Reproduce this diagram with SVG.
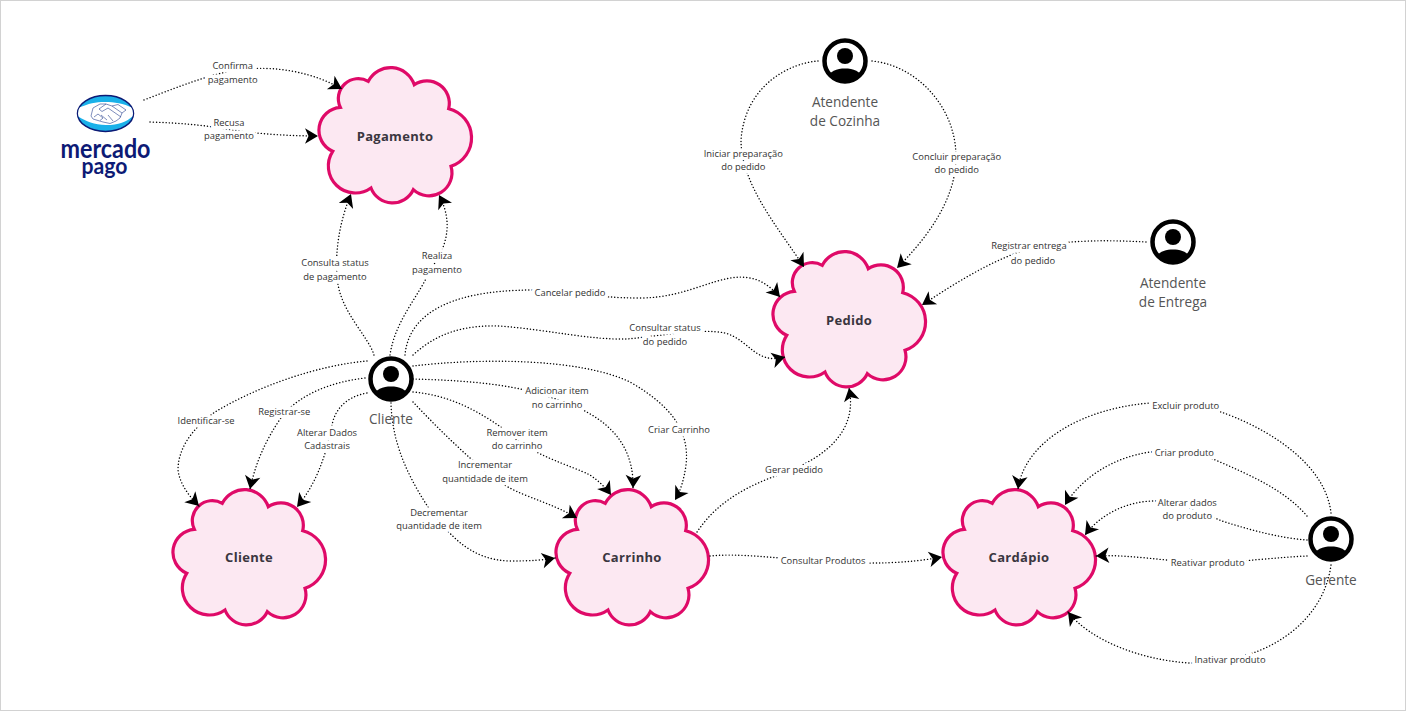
<svg xmlns="http://www.w3.org/2000/svg" width="1406" height="711" viewBox="0 0 1406 711">
<style>
.c{fill:none;stroke:#000;stroke-width:1.4;stroke-dasharray:.1 3.1;stroke-linecap:round;marker-end:url(#arrow)}
.cloud{fill:#fce8f2;stroke:#df0a68;stroke-width:3.200}
.t{font-family:"Open Sans","Liberation Sans",sans-serif;text-anchor:middle}
.n{font-size:13px;font-weight:700;fill:#3a3640;letter-spacing:.3px}
.a{font-size:13.600px;fill:#555}
.l{font-size:9.400px;fill:#333;stroke:#fff;stroke-width:7;stroke-linejoin:round;paint-order:stroke}
.m{font-family:Lato,"Liberation Sans",sans-serif;font-weight:700;fill:#0d1a75;text-anchor:middle}
</style>
<defs>
<marker id="arrow" markerUnits="userSpaceOnUse" markerWidth="18" markerHeight="18" viewBox="-15 -9 18 18" refX="0" refY="0" orient="auto" overflow="visible"><path d="M0 0L-13 -7.800L-9.500 0L-13 7.800Z" fill="#000"/></marker>
<path id="cloudShape" class="cloud" d="M50.300 13.300A25 25 0 0 1 96.300 16.700A22.500 22.500 0 0 1 130.700 40.700A30 30 0 0 1 133 98.300A23 23 0 0 1 95.300 121.700A23 23 0 0 1 53 120A27 27 0 0 1 14.700 83.300A23 23 0 0 1 22.300 39.300A20 20 0 0 1 50.300 13.300Z"/>
<clipPath id="actorClip"><circle r="20"/></clipPath>
<g id="actor"><circle r="20.500" fill="#fff" stroke="#000" stroke-width="4.500"/><circle cy="-5" r="8" fill="#000"/><path clip-path="url(#actorClip)" d="M-18 18C-16 10 -8 7.500 0 7.500C8 7.500 16 10 18 18V24H-18Z" fill="#000"/></g>
<clipPath id="mpClip"><ellipse cx="105.500" cy="113.500" rx="27.500" ry="17.500"/></clipPath>
</defs>
<rect width="1406" height="711" fill="#fff"/>
<rect x=".5" y=".5" width="1405" height="710" fill="none" stroke="#d2d2d2"/>

<g id="node-pagamento"><use href="#cloudShape" x="318" y="68"/><text class="t n" x="395" y="141">Pagamento</text></g>
<g id="node-pedido"><use href="#cloudShape" x="772" y="252"/><text class="t n" x="849" y="325">Pedido</text></g>
<g id="node-cliente"><use href="#cloudShape" x="172" y="490"/><text class="t n" x="249" y="562">Cliente</text></g>
<g id="node-carrinho"><use href="#cloudShape" x="555" y="490"/><text class="t n" x="632" y="562">Carrinho</text></g>
<g id="node-cardapio"><use href="#cloudShape" x="942" y="490"/><text class="t n" x="1019" y="562">Cardápio</text></g>

<g id="connectors">
<path class="c" d="M144 100C175 88 205 76 235 70C265 66 305 68 342 89"/>
<path class="c" d="M150 122C180 123 205 125 232 130C260 134 290 136 318 136"/>
<path class="c" d="M374 355C368 335 338 310 337 275C335 250 340 220 351 194"/>
<path class="c" d="M390 355C395 320 420 295 430 270C445 250 455 225 439 195"/>
<path class="c" d="M405 355C408 320 440 290 533 290C570 290 590 298 640 298C690 298 720 272 750 278C762 280 772 288 780 297"/>
<path class="c" d="M413 355C440 330 470 325 500 326C550 330 590 340 627 339C660 336 700 328 725 333C750 340 755 365 785 357"/>
<path class="c" d="M413 366C480 358 580 358 630 382C670 405 690 430 686 465C684 480 680 492 675 500"/>
<path class="c" d="M413 379C450 380 490 382 525 390C570 402 635 420 633 488"/>
<path class="c" d="M413 392C450 395 480 412 505 430C530 455 570 465 590 475C600 482 606 488 611 495"/>
<path class="c" d="M413 402C430 420 450 440 470 458C490 475 500 485 525 495C545 503 560 508 577 518"/>
<path class="c" d="M391 403C392 445 410 480 430 510C450 535 470 560 510 561C530 561 545 560 555 558"/>
<path class="c" d="M367 361C320 365 260 385 215 412C190 430 178 450 178 470C180 485 190 497 199 506"/>
<path class="c" d="M365 378C330 382 300 395 283 415C265 440 255 465 250 489"/>
<path class="c" d="M367 393C345 397 335 410 332 425C325 460 315 485 297 507"/>
<path class="c" d="M697 532C715 505 740 490 770 478C810 465 860 440 849 388"/>
<path class="c" d="M710 556C740 553 770 558 823 561C870 565 910 563 942 557"/>
<path class="c" d="M818 61C790 63 745 85 741 140C741 185 780 230 804 267"/>
<path class="c" d="M872 61C915 65 955 105 956 155C957 200 925 240 897 268"/>
<path class="c" d="M1146 242C1110 240 1070 240 1040 246C1000 255 960 280 922 305"/>
<path class="c" d="M1331 513C1325 460 1260 425 1218 411C1190 403 1170 402 1150 403C1085 408 1025 440 1018 489"/>
<path class="c" d="M1307 516C1285 490 1250 475 1213 459C1195 453 1170 451 1150 452C1110 458 1080 480 1065 505"/>
<path class="c" d="M1307 540C1280 538 1250 530 1222 521C1200 512 1175 500 1152 501C1125 502 1100 515 1085 535"/>
<path class="c" d="M1307 556C1280 557 1240 562 1208 563C1170 562 1130 554 1096 556"/>
<path class="c" d="M1331 565C1325 610 1290 640 1253 653C1230 660 1210 663 1190 663C1140 660 1090 640 1068 612"/>
</g>

<g id="connector-labels">
<text class="t l" x="232.700" y="69">Confirma</text><text class="t l" x="232.700" y="83">pagamento</text>
<text class="t l" x="229" y="126">Recusa</text><text class="t l" x="229" y="139">pagamento</text>
<text class="t l" x="335" y="266">Consulta status</text><text class="t l" x="335" y="280">de pagamento</text>
<text class="t l" x="437" y="259">Realiza</text><text class="t l" x="437" y="273">pagamento</text>
<text class="t l" x="570" y="296">Cancelar pedido</text>
<text class="t l" x="665" y="331">Consultar status</text><text class="t l" x="665" y="345">do pedido</text>
<text class="t l" x="557" y="394">Adicionar item</text><text class="t l" x="557" y="408">no carrinho</text>
<text class="t l" x="679" y="433">Criar Carrinho</text>
<text class="t l" x="517" y="436">Remover item</text><text class="t l" x="517" y="449">do carrinho</text>
<text class="t l" x="485" y="468">Incrementar</text><text class="t l" x="485" y="482">quantidade de item</text>
<text class="t l" x="439" y="516">Decrementar</text><text class="t l" x="439" y="529">quantidade de item</text>
<text class="t l" x="206" y="424">Identificar-se</text>
<text class="t l" x="284.300" y="415">Registrar-se</text>
<text class="t l" x="327" y="436">Alterar Dados</text><text class="t l" x="327" y="449">Cadastrais</text>
<text class="t l" x="794" y="473">Gerar pedido</text>
<text class="t l" x="823" y="564">Consultar Produtos</text>
<text class="t l" x="743.300" y="157">Iniciar preparação</text><text class="t l" x="743.300" y="170">do pedido</text>
<text class="t l" x="956.700" y="160">Concluir preparação</text><text class="t l" x="956.700" y="173">do pedido</text>
<text class="t l" x="1029" y="249">Registrar entrega</text><text class="t l" x="1033" y="264">do pedido</text>
<text class="t l" x="1185.700" y="409">Excluir produto</text>
<text class="t l" x="1184.300" y="456">Criar produto</text>
<text class="t l" x="1187.300" y="506">Alterar dados</text><text class="t l" x="1187.300" y="519">do produto</text>
<text class="t l" x="1207.700" y="566">Reativar produto</text>
<text class="t l" x="1230" y="663">Inativar produto</text>
</g>

<g id="actor-cliente"><use href="#actor" x="391" y="379"/><text class="t a" x="391" y="424">Cliente</text></g>
<g id="actor-cozinha"><use href="#actor" x="845" y="61"/><text class="t a" x="845" y="107">Atendente</text><text class="t a" x="845" y="126">de Cozinha</text></g>
<g id="actor-entrega"><use href="#actor" x="1173" y="242"/><text class="t a" x="1173" y="288">Atendente</text><text class="t a" x="1173" y="307">de Entrega</text></g>
<g id="actor-gerente"><use href="#actor" x="1331" y="539"/><text class="t a" x="1331" y="585">Gerente</text></g>

<g id="node-mercadopago">
<ellipse cx="105.500" cy="113.500" rx="28" ry="18" fill="#1ab1e9" stroke="#0d1a75" stroke-width="1.500"/>
<path clip-path="url(#mpClip)" d="M76 109C88 103.500 95 102 105 102C115 102 124 103.500 135 109V114C128 121 120 125 106 125C93 125 85 121 76 115Z" fill="#fff"/>
<path d="M93 108L100 104H106L112 106L122 113L120 118L116 121L110 123.500L103 122L93 119L91 116Z" fill="#fff" stroke="#27408f" stroke-width=".6" stroke-linejoin="round"/>
<path d="M112 106L118 104.500L126 110L122 113M106 104L99 109L102 111.500L108 108L121 117M94 117L98 114L103 118L100 120.500M101 115L107 120M108 115L113 121" fill="none" stroke="#27408f" stroke-width=".6" stroke-linejoin="round"/>
<text class="m" x="105.500" y="158" font-size="26" textLength="90" lengthAdjust="spacingAndGlyphs">mercado</text>
<text class="m" x="104.500" y="173.500" font-size="23" textLength="46" lengthAdjust="spacingAndGlyphs">pago</text>
</g>
</svg>
